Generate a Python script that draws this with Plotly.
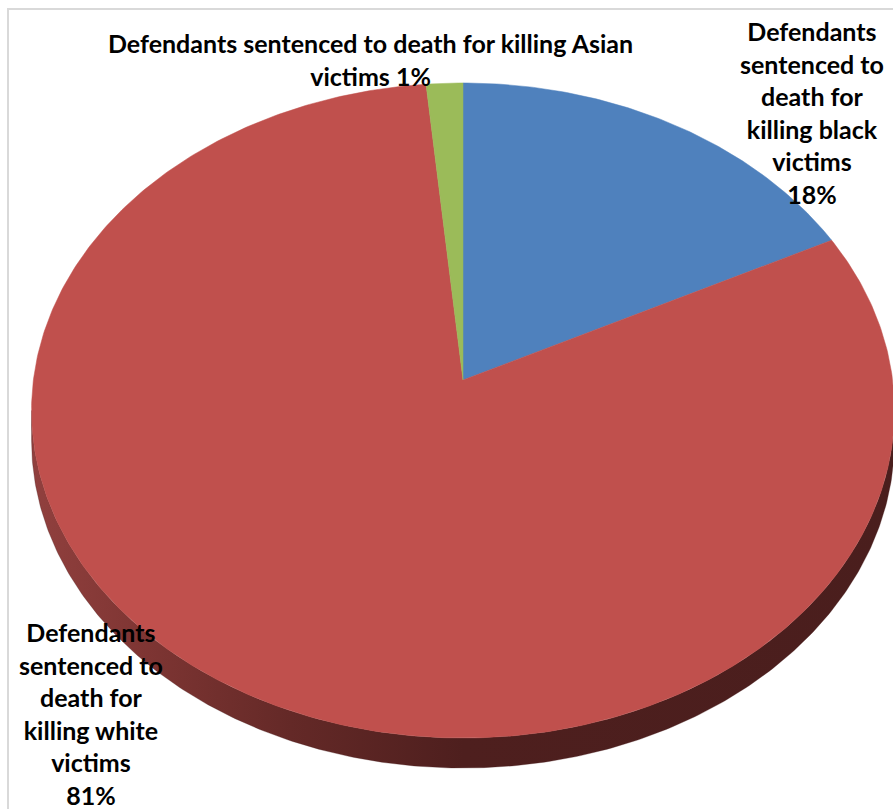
import numpy as np
import plotly.graph_objects as go

# ---------------- data ----------------
categories = [
    "Defendants sentenced to death for killing black victims",
    "Defendants sentenced to death for killing white victims",
    "Defendants sentenced to death for killing Asian victims",
]
values = [17.6, 80.9, 1.5]
pct_labels = ["18%", "81%", "1%"]
label_lines = [
    ["Defendants", "sentenced to", "death for", "killing black", "victims"],
    ["Defendants", "sentenced to", "death for", "killing white", "victims"],
    ["Defendants sentenced to death for killing Asian", "victims"],
]
colors = ["#4F81BD", "#C0504D", "#9BBB59"]

# ---------------- geometry (layout) ----------------
W, H = 893, 809
CX, CY = 463, 380          # projected pie centre
A, B, K = 429.6, 324.7, 0.0931   # perspective ellipse parameters
DEPTH = 30
FONT = "Liberation Sans Narrow, Arial Narrow, Lato, sans-serif"


def proj(theta, dy=0.0):
    u = np.sin(theta)
    v = np.cos(theta)
    s = 1 + K * v
    return CX + A * u / s, CY - B * v / s + dy


fig = go.Figure()

# side wall (visible lower part) as a single polygon with horizontal gradient
th_r = np.arccos(-K)
th_l = 2 * np.pi - th_r
t = np.linspace(th_r, th_l, 300)
xt, yt = proj(t)
xb, yb = proj(t[::-1], DEPTH)
xs = np.concatenate([xt, xb, xt[:1]])
ys = np.concatenate([yt, yb, yt[:1]])
fig.add_trace(go.Scatter(
    x=xs, y=ys, mode="lines", fill="toself",
    line=dict(color="rgba(74,30,29,0.6)", width=0.5),
    fillgradient=dict(type="horizontal", colorscale=[
        [0.0, "rgb(145,64,62)"],
        [0.12, "rgb(128,54,52)"],
        [0.3, "rgb(100,41,39)"],
        [0.5, "rgb(78,31,30)"],
        [1.0, "rgb(74,30,29)"],
    ]),
    hoverinfo="skip", showlegend=False))

# top faces of slices
total = sum(values)
start = 0.0
for name, val, col in zip(categories, values, colors):
    ang0 = 2 * np.pi * start / total
    ang1 = 2 * np.pi * (start + val) / total
    ts = np.linspace(ang0, ang1, max(8, int(val * 6)))
    xa, ya = proj(ts)
    px = np.concatenate([[CX], xa, [CX]])
    py = np.concatenate([[CY], ya, [CY]])
    fig.add_trace(go.Scatter(x=px, y=py, mode="lines", fill="toself",
                             fillcolor=col, line=dict(color=col, width=0.5),
                             name=name, hoverinfo="name", showlegend=False))
    start += val

# labels
label_pos = [(812, 112.5), (91, 713), (370, 59)]
for lines, pct, (lx, ly) in zip(label_lines, pct_labels, label_pos):
    if len(lines) == 2:
        txt = lines[0] + "<br>" + lines[1] + " " + pct
    else:
        txt = "<br>".join(lines + [pct])
    fig.add_annotation(x=lx, y=ly, xref="x", yref="y", text=txt,
                       showarrow=False, xanchor="center", yanchor="middle",
                       align="center",
                       font=dict(family=FONT, size=25, color="#000000",
                                 weight="bold"))

# chart-area border
fig.add_shape(type="rect", xref="x", yref="y", x0=8, y0=9, x1=W + 20, y1=H + 20,
              line=dict(color="#D9D9D9", width=2), fillcolor="rgba(0,0,0,0)",
              layer="above")

fig.update_layout(
    width=W, height=H,
    margin=dict(l=0, r=0, t=0, b=0),
    paper_bgcolor="white", plot_bgcolor="white",
    xaxis=dict(range=[0, W], visible=False, fixedrange=True),
    yaxis=dict(range=[H, 0], visible=False, fixedrange=True),
    showlegend=False,
)

fig.write_html(
    "out.html",
    config={"displayModeBar": False},
    post_script="document.body.style.margin='0';document.body.style.overflow='hidden';",
)
